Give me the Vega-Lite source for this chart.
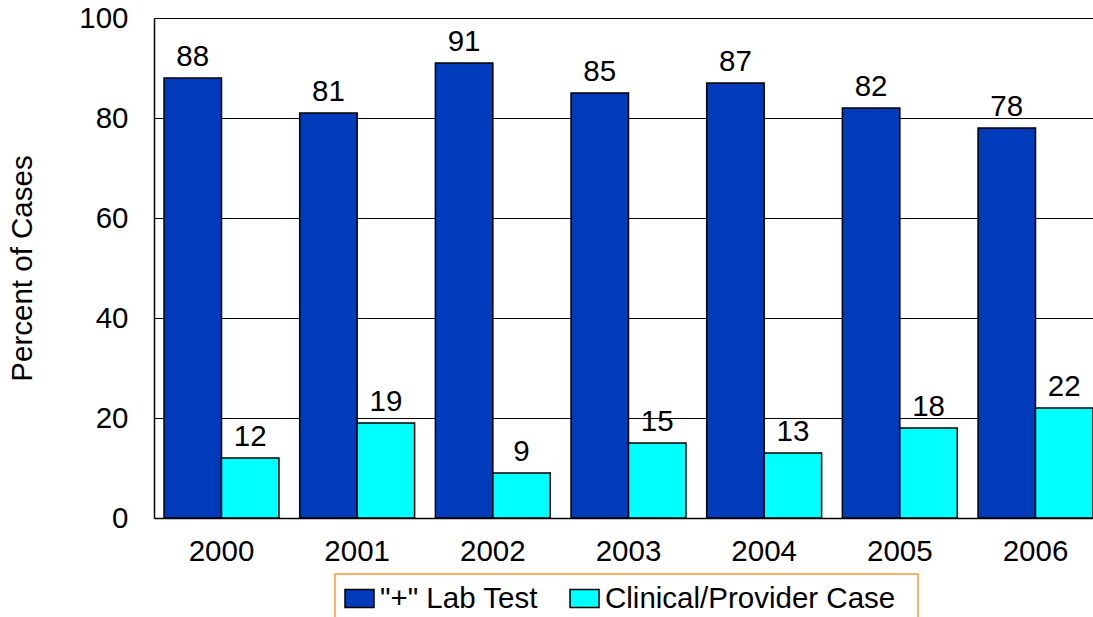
{
  "$schema": "https://vega.github.io/schema/vega-lite/v6.json",
  "width": 949,
  "height": 500,
  "autosize": {"type": "none"},
  "padding": {"left": 154, "top": 18, "right": 0, "bottom": 99},
  "background": "white",
  "config": {
    "font": "Liberation Sans",
    "view": {"stroke": null}
  },
  "data": {
    "values": [
      {"year": "2000", "series": "\"+\" Lab Test", "value": 88},
      {"year": "2000", "series": "Clinical/Provider Case", "value": 12},
      {"year": "2001", "series": "\"+\" Lab Test", "value": 81},
      {"year": "2001", "series": "Clinical/Provider Case", "value": 19},
      {"year": "2002", "series": "\"+\" Lab Test", "value": 91},
      {"year": "2002", "series": "Clinical/Provider Case", "value": 9},
      {"year": "2003", "series": "\"+\" Lab Test", "value": 85},
      {"year": "2003", "series": "Clinical/Provider Case", "value": 15},
      {"year": "2004", "series": "\"+\" Lab Test", "value": 87},
      {"year": "2004", "series": "Clinical/Provider Case", "value": 13},
      {"year": "2005", "series": "\"+\" Lab Test", "value": 82},
      {"year": "2005", "series": "Clinical/Provider Case", "value": 18},
      {"year": "2006", "series": "\"+\" Lab Test", "value": 78},
      {"year": "2006", "series": "Clinical/Provider Case", "value": 22}
    ]
  },
  "encoding": {
    "x": {
      "field": "year", "type": "nominal",
      "scale": {"paddingInner": 0.153, "paddingOuter": 0.074},
      "axis": {
        "title": null, "labelAngle": 0, "labelFontSize": 29.5, "labelColor": "black",
        "ticks": false, "labelPadding": 19, "domainColor": "black", "domainWidth": 1.5
      }
    },
    "xOffset": {"field": "series", "type": "nominal", "sort": ["\"+\" Lab Test", "Clinical/Provider Case"]},
    "y": {
      "field": "value", "type": "quantitative",
      "scale": {"domain": [0, 100]},
      "axis": {
        "title": "Percent of Cases", "titleFontSize": 29.5, "titleFontWeight": "normal", "titleColor": "black",
        "titleX": -132, "titleY": 250, "titleAlign": "center", "titleBaseline": "middle", "titleAngle": -90,
        "values": [0, 20, 40, 60, 80, 100], "labelFontSize": 29.5, "labelColor": "black",
        "ticks": false, "labelPadding": 26,
        "grid": true, "gridColor": "black", "gridWidth": 1.2, "gridOpacity": 1,
        "domainColor": "black", "domainWidth": 1.5
      }
    }
  },
  "layer": [
    {
      "mark": {"type": "bar", "stroke": "black", "strokeWidth": 1.5},
      "encoding": {
        "color": {
          "field": "series", "type": "nominal",
          "sort": ["\"+\" Lab Test", "Clinical/Provider Case"],
          "scale": {"domain": ["\"+\" Lab Test", "Clinical/Provider Case"], "range": ["#003BBB", "#00FFFF"]},
          "legend": {
            "title": "\u00a0", "titleOrient": "right", "titlePadding": 14, "titleFontSize": 10,
            "orient": "none", "direction": "horizontal",
            "legendX": 181, "legendY": 556,
            "labelFontSize": 29.5, "labelColor": "black", "labelLimit": 1000,
            "symbolType": "M-1,-0.62H1V0.62H-1Z", "symbolSize": 841,
            "symbolStrokeColor": "black", "symbolStrokeWidth": 1.5,
            "labelOffset": 5, "columnPadding": 29,
            "padding": 9, "strokeColor": "#FF9933", "fillColor": "white",
            "encode": {"legend": {"update": {"strokeWidth": {"value": 1.5}}}}
          }
        }
      }
    },
    {
      "mark": {"type": "text", "fontSize": 29.5, "baseline": "alphabetic", "dy": -12, "color": "black"},
      "encoding": {"text": {"field": "value", "type": "quantitative"}}
    }
  ]
}
